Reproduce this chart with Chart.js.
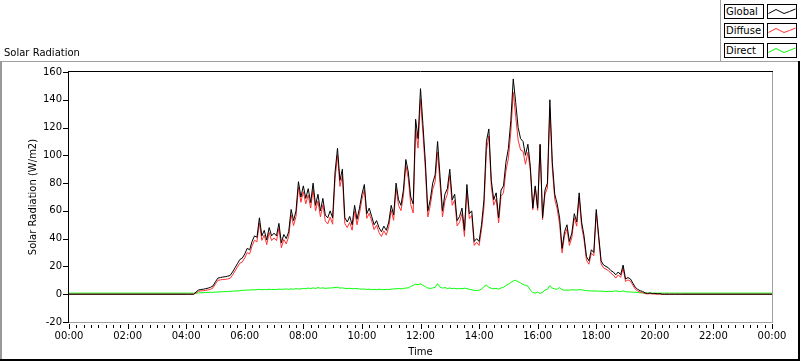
<!DOCTYPE html>
<html><head><meta charset="utf-8">
<script src="https://cdn.jsdelivr.net/npm/chart.js@4/dist/chart.umd.min.js"></script>
<style>
html,body{margin:0;padding:0;background:#fff;}
#wrap{position:relative;width:800px;height:361px;overflow:hidden;background:#fff;font-family:'DejaVu Sans',sans-serif;font-size:10px;color:#000;}
#c{position:absolute;left:0;top:0;}
.ln{position:absolute;}
.lab{position:absolute;left:724px;width:40px;height:15px;border:1px solid #000;box-sizing:border-box;line-height:13px;padding-left:1px;white-space:nowrap;background:#fff;}
.smp{position:absolute;left:767px;width:30px;height:15px;border:1px solid #000;box-sizing:border-box;background:#fff;}
.smp svg{position:absolute;left:0;top:0;}
#title{position:absolute;left:4px;top:47px;line-height:12px;white-space:nowrap;}
</style></head>
<body>
<div id="wrap">
<canvas id="c" width="800" height="361"></canvas>
<div class="ln" style="left:0;top:61px;width:800px;height:1px;background:#a0a0a0"></div>
<div class="ln" style="left:0;top:61px;width:2px;height:300px;background:#999"></div>
<div class="ln" style="left:798px;top:61px;width:2px;height:300px;background:#000"></div>
<div class="ln" style="left:0;top:359px;width:800px;height:2px;background:#000"></div>
<div class="ln" style="left:720px;top:0;width:1px;height:61px;background:#a0a0a0"></div>
<div id="title">Solar Radiation</div>
<div id="legend"></div>
</div>
<script>
// ---- data (time in minutes from midnight) ----
const timesMin = [0,
 240,245,250,255,260,265,270,275,280,285,290,295,
 300,305,310,315,320,325,330,335,340,345,350,355,
 360,365,370,375,380,385,390,395,400,405,410,415,
 420,425,430,435,440,445,450,455,460,465,470,475,
 480,485,490,495,500,505,510,515,520,525,530,535,
 540,545,550,555,560,565,570,575,580,585,590,595,
 600,605,610,615,620,625,630,635,640,645,650,655,
 660,665,670,675,680,685,690,695,700,705,710,715,
 720,725,730,735,740,745,750,755,760,765,770,775,
 780,785,790,795,800,805,810,815,820,825,830,835,
 840,845,850,855,860,865,870,875,880,885,890,895,
 900,905,910,915,920,925,930,935,940,945,950,955,
 960,965,970,975,980,985,990,995,1000,1005,1010,1015,
 1020,1025,1030,1035,1040,1045,1050,1055,1060,1065,1070,1075,
 1080,1085,1090,1095,1100,1105,1110,1115,1120,1125,1130,1135,
 1140,1145,1150,1155,1160,1165,1170,1175,1180,1185,1190,1195,
 1200,1205,1210,1215,1220,1225,1230,1235,1240,1245,1250,1255,
 1440];

const globalVals = [0,
 0,0,0,0,1.5,3,3.4,3.6,4,4.4,5,6,
 9,11.6,12,12.4,12.6,13,13.5,16,19,22,25,26,
 29,33,32,38,42,41,55,42,46,39,48,42,
 44,42,51,37,43,40,45,61,53,60,81,70,
 78,69,76,66,80,64,72,60,69,57,55,60,
 55,88,105,82,90,55,52,56,50,64,54,62,
 72,79,58,62,56,50,53,48,45,49,46,52,
 64,57,80,68,64,75,97,88,70,65,126,112,
 148,122,95,60,68,80,86,110,85,60,72,76,
 90,68,72,53,56,62,46,79,58,60,38,40,
 38,50,68,110,119,82,68,73,55,75,78,95,
 105,125,155,138,120,112,110,100,108,92,62,78,
 62,108,55,75,80,140,95,72,65,55,33,45,
 50,38,44,58,52,73,52,42,27,24,32,30,
 61,42,24,21,20,19,17,16,14,16,14,21,
 11,12,11,8,5,3.5,2.5,2,1,0.6,0.9,0.5,
 0.6,0.3,0.5,0,0,0,0,0,0,0,0,0,
 0];

const diffuseVals = [0,
 0,0,0,0,0.7,2.1,2.4,2.5,2.8,3.1,3.6,4.6,
 7.5,10.0,10.3,10.6,10.7,11.0,11.4,13.8,16.7,19.6,22.4,23.2,
 26.1,30.0,29.0,34.8,38.9,37.7,51.5,38.8,42.6,35.7,44.4,38.6,
 40.5,38.6,47.3,33.5,39.4,36.2,41.5,57.1,49.4,56.0,77.3,66.2,
 73.8,65.1,71.5,62.0,75.4,59.9,67.2,55.7,64.4,52.8,50.6,55.5,
 50.4,83.2,100.0,77.6,85.4,50.8,48.0,51.7,46.1,59.9,50.0,58.2,
 68.4,75.2,54.6,58.3,52.7,46.5,49.8,44.4,41.6,45.7,42.5,48.6,
 60.4,53.2,76.1,63.9,60.2,70.8,92.6,83.4,64.5,58.5,118.8,105.2,
 140.5,115.6,89.5,55.6,63.8,75.5,81.0,102.4,79.8,55.6,67.2,71.9,
 85.5,64.0,67.7,49.2,51.8,58.1,41.6,75.0,54.4,56.8,35.2,37.4,
 35.1,46.4,62.4,103.5,114.0,77.8,64.1,68.7,51.3,70.5,73.0,88.8,
 97.8,116.6,145.4,128.0,111.0,103.8,103.0,93.6,102.2,89.0,60.8,77.2,
 60.4,107.5,53.6,72.0,76.5,133.8,90.5,68.2,61.4,50.2,29.8,42.1,
 47.0,35.1,40.8,54.9,49.0,69.7,48.8,39.2,24.4,21.6,29.6,27.7,
 58.7,39.8,21.8,18.9,18.0,17.0,15.1,13.8,11.6,13.9,12.1,18.6,
 9.2,10.3,9.4,6.5,3.6,2.3,1.5,1.1,0.4,0.2,0.4,0.2,
 0.1,0,0,0,0,0,0,0,0,0,0,0,
 0];

const directVals = [0.8,
 0.8,0.8,0.8,0.8,0.8,0.9,1.0,1.1,1.2,1.3,1.4,1.4,
 1.5,1.6,1.7,1.8,1.9,2.0,2.1,2.2,2.3,2.4,2.6,2.8,
 2.9,3.0,3.0,3.2,3.1,3.3,3.5,3.2,3.4,3.3,3.6,3.4,
 3.5,3.4,3.7,3.5,3.6,3.8,3.5,3.9,3.6,4.0,3.7,3.8,
 4.2,3.9,4.5,4.0,4.6,4.1,4.8,4.3,4.6,4.2,4.4,4.5,
 4.6,4.8,5.0,4.4,4.6,4.2,4.0,4.3,3.9,4.1,4.0,3.8,
 3.6,3.8,3.4,3.7,3.3,3.5,3.2,3.6,3.4,3.3,3.5,3.4,
 3.6,3.8,3.9,4.1,3.8,4.2,4.4,4.6,5.5,6.5,7.2,6.8,
 7.5,6.4,5.5,4.4,4.2,4.5,5.0,7.6,5.2,4.4,4.8,4.1,
 4.5,4.0,4.3,3.8,4.2,3.9,4.4,4.0,3.6,3.2,2.8,2.6,
 2.9,3.6,5.6,6.5,5.0,4.2,3.9,4.3,3.7,4.5,5.0,6.2,
 7.2,8.4,9.6,10.0,9.0,8.2,7.0,6.4,5.8,3.0,1.2,0.8,
 1.6,0.5,1.4,3.0,3.5,6.2,4.5,3.8,3.6,4.8,3.2,2.9,
 3.0,2.9,3.2,3.1,3.0,3.3,3.2,2.8,2.6,2.4,2.4,2.3,
 2.3,2.2,2.2,2.1,2.0,2.0,1.9,2.2,2.4,2.1,1.9,2.4,
 1.8,1.7,1.6,1.5,1.4,1.2,1.0,0.9,0.8,0.8,0.8,0.8,
 0.8,0.8,0.8,0.8,0.8,0.8,0.8,0.8,0.8,0.8,0.8,0.8,
 0.8];

const seriesNames = ['Global','Diffuse','Direct'];
const seriesColors = ['#000000','#ff3030','#00ff00'];
const xTickLabels = ['00:00','02:00','04:00','06:00','08:00','10:00','12:00','14:00','16:00','18:00','20:00','22:00','00:00'];
const yTickValues = [-20,0,20,40,60,80,100,120,140,160];

// ---- legend (HTML) ----
const legend = document.getElementById('legend');
const legendTops = [4, 23, 43];
seriesNames.forEach((n, i) => {
  const lab = document.createElement('div');
  lab.className = 'lab'; lab.style.top = legendTops[i] + 'px'; lab.textContent = n;
  legend.appendChild(lab);
  const s = document.createElement('div');
  s.className = 'smp'; s.style.top = legendTops[i] + 'px';
  s.innerHTML = '<svg width="28" height="13"><polyline points="0.5,8.5 8,4.5 16,8.5 21.5,6.5 27.5,4" fill="none" stroke="' + seriesColors[i] + '" stroke-width="1"/></svg>';
  legend.appendChild(s);
});

const FONT = {family: "'DejaVu Sans', sans-serif", size: 10};

const framePlugin = {
  id: 'frame',
  afterDraw(chart) {
    const {ctx, chartArea: a, scales: {x, y}} = chart;
    const L = Math.round(a.left), R = Math.round(a.right), T = Math.round(a.top), B = Math.round(a.bottom);
    ctx.save();
    ctx.lineWidth = 1;
    ctx.strokeStyle = '#a0a0a0';
    ctx.beginPath();
    ctx.moveTo(L, B + 0.5); ctx.lineTo(R + 1, B + 0.5);
    ctx.moveTo(R + 0.5, T - 1); ctx.lineTo(R + 0.5, B + 1);
    ctx.stroke();
    ctx.strokeStyle = '#000';
    ctx.beginPath();
    ctx.moveTo(L - 1, T - 0.5); ctx.lineTo(R + 1, T - 0.5);
    ctx.moveTo(L - 0.5, T - 1); ctx.lineTo(L - 0.5, B + 1);
    yTickValues.forEach(v => {
      const py = Math.round(y.getPixelForValue(v)) + 0.5;
      ctx.moveTo(L - 6, py); ctx.lineTo(L - 1, py);
    });
    for (let m = 0; m <= 1440; m += 15) {
      const px = Math.round(x.getPixelForValue(m)) + 0.5;
      if (m % 120 === 0) { ctx.moveTo(px, B + 2); ctx.lineTo(px, B + 7); }
      else { ctx.moveTo(px, B + 3); ctx.lineTo(px, B + 6); }
    }
    ctx.stroke();
    ctx.restore();
  }
};

const mk = (vals) => timesMin.map((t, i) => ({x: t, y: vals[i]}));

new Chart(document.getElementById('c'), {
  type: 'line',
  data: {
    datasets: [
      {label: seriesNames[0], data: mk(globalVals), borderColor: seriesColors[0]},
      {label: seriesNames[1], data: mk(diffuseVals), borderColor: seriesColors[1]},
      {label: seriesNames[2], data: mk(directVals), borderColor: seriesColors[2]}
    ].map(d => Object.assign(d, {borderWidth: 1, pointRadius: 0, tension: 0, fill: false}))
  },
  options: {
    responsive: false, animation: false, devicePixelRatio: 1,
    layout: {padding: {left: 0, right: 28, top: 72, bottom: 0}},
    plugins: {legend: {display: false}, tooltip: {enabled: false}, title: {display: false}},
    scales: {
      x: {
        type: 'linear', min: 0, max: 1440, position: 'bottom',
        ticks: {stepSize: 120, autoSkip: false, maxRotation: 0, minRotation: 0, padding: 1, color: '#000', font: FONT,
                callback: (v, i) => xTickLabels[i]},
        grid: {display: true, drawOnChartArea: false, drawTicks: true, tickLength: 7, color: 'rgba(0,0,0,0)'},
        border: {display: false},
        title: {display: true, text: 'Time', color: '#000', font: FONT, padding: {top: 0, bottom: 3}},
        afterFit: s => { s.height = 39; }
      },
      y: {
        min: -20, max: 160,
        ticks: {stepSize: 20, padding: 1, color: '#000', font: FONT},
        grid: {display: true, drawOnChartArea: false, drawTicks: true, tickLength: 6, color: 'rgba(0,0,0,0)'},
        border: {display: false},
        title: {display: true, text: 'Solar Radiation (W/m2)', color: '#000', font: FONT, padding: {top: 27, bottom: 0}},
        afterFit: s => { s.width = 69; }
      }
    }
  },
  plugins: [framePlugin]
});
</script>
</body></html>
